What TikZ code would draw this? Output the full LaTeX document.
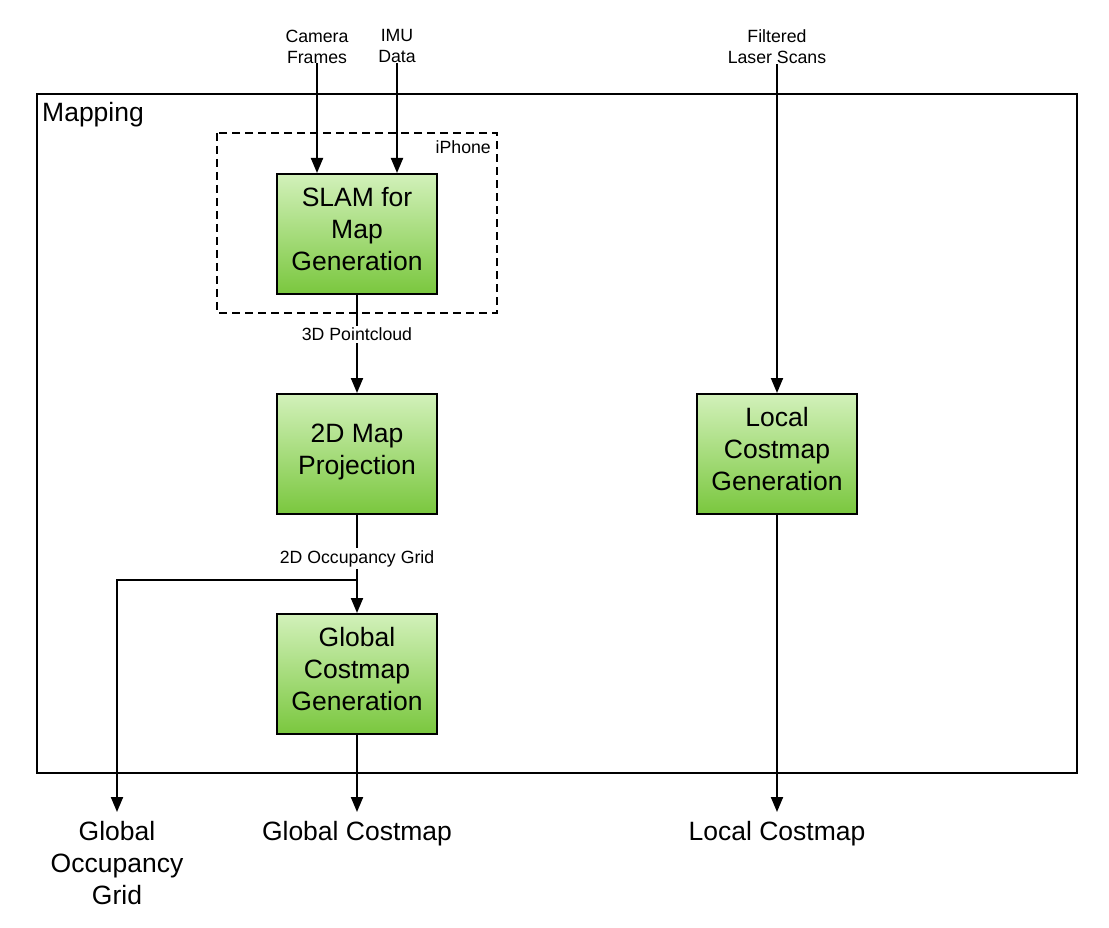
\documentclass[tikz,border=0pt]{standalone}
\usepackage{fontspec}
\setmainfont{Liberation Sans}
\usetikzlibrary{arrows.meta}

\definecolor{boxtop}{RGB}{210,241,186}
\definecolor{boxbot}{RGB}{122,199,62}
\newcommand{\bigtxt}{\fontsize{26.5}{32}\selectfont}
\newcommand{\smalltxt}{\fontsize{17.7}{21}\selectfont}

\tikzset{
    block/.style={draw, line width=2, minimum width=160, minimum height=120,
        top color=boxtop, bottom color=boxbot, align=center, font=\bigtxt, inner sep=0,
        text depth=10},
    inlbl/.style={font=\smalltxt, align=center, inner sep=0, anchor=north},
    outlbl/.style={font=\bigtxt, align=center, inner sep=0, anchor=north},
    edgelbl/.style={font=\smalltxt, fill=white, inner sep=2},
    arr/.style={line width=2, -{Triangle[length=15pt,width=12pt]}}
}

\begin{document}
\begin{tikzpicture}[x=1pt,y=-1pt]
            \useasboundingbox (0,0) rectangle (1109,928);

            \draw[line width=2] (37,94) rectangle (1077,773);
            \node[font=\bigtxt, anchor=base west, inner sep=0] (maplbl) at (42,122) {Mapping};

            \draw[line width=1.5, dash pattern=on 8pt off 5pt] (217,133) rectangle (497,313);
            \node[font=\smalltxt, anchor=base east, inner sep=0] (phonelbl) at (491,154) {iPhone};

            \node[block] (slam) at (357,234) {SLAM for\\Map\\Generation};
            \node[block] (proj) at (357,454) {2D Map\\Projection};
            \node[block] (glob) at (357,674) {Global\\Costmap\\Generation};
            \node[block] (local) at (777,454) {Local\\Costmap\\Generation};

            \node[inlbl] (cam) at (317,29.5) {Camera\\Frames};
            \node[inlbl] (imu) at (397,29.5) {IMU\\Data};
            \node[inlbl] (laser) at (777,29.5) {Filtered\\Laser Scans};

            \node[outlbl] (occ) at (117,821) {Global\\Occupancy\\Grid};
            \node[outlbl] (gcm) at (357,821) {Global Costmap};
            \node[outlbl] (lcm) at (777,821) {Local Costmap};

            \coordinate (split) at (357,580);

            \draw[arr] (cam) -- (cam |- slam.north);
            \draw[arr] (imu) -- (imu |- slam.north);
            \draw[arr] (laser) -- (local);
            \draw[arr] (slam) -- node[edgelbl, pos=0.40] {3D Pointcloud} (proj);
            \draw[line width=2] (proj) -- node[edgelbl, pos=0.67] {2D Occupancy Grid} (split);
            \draw[arr] (split) -- (glob);
            \draw[arr, shorten >=9pt] (split) -| (occ);
            \draw[arr, shorten >=9pt] (glob) -- (gcm);
            \draw[arr, shorten >=9pt] (local) -- (lcm);
        \end{tikzpicture}
\end{document}
